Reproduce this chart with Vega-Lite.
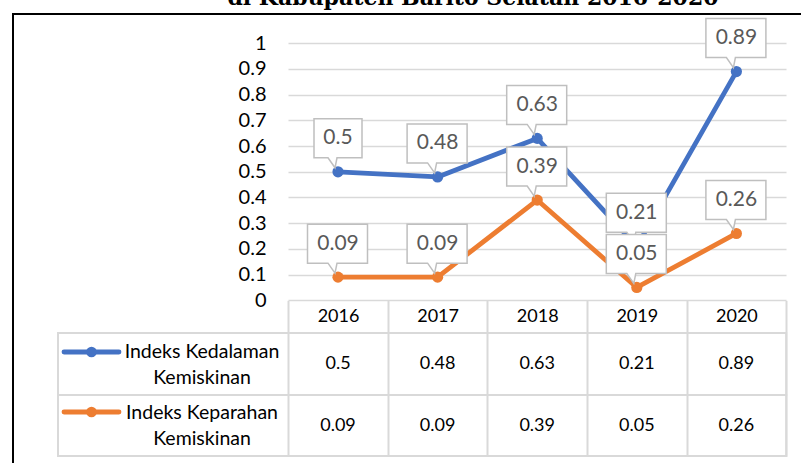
{
  "$schema": "https://vega.github.io/schema/vega-lite/v6.json",
  "autosize": {"type": "none"},
  "width": 796,
  "height": 458,
  "padding": {"left": 13, "top": 14, "right": -8, "bottom": -9},
  "background": "white",
  "config": {"view": {"stroke": "black", "strokeWidth": 2}, "font": "Lato"},
  "title": {
    "text": "di Kabupaten Barito Selatan 2016-2020",
    "font": "DejaVu Serif",
    "fontSize": 22,
    "fontWeight": "bold",
    "color": "black",
    "anchor": "middle",
    "frame": "group",
    "baseline": "bottom",
    "dx": 62,
    "offset": -18
  },
  "data": {
    "values": [
      {"series": "Indeks Kedalaman Kemiskinan", "year": 2016, "value": 0.5},
      {"series": "Indeks Kedalaman Kemiskinan", "year": 2017, "value": 0.48},
      {"series": "Indeks Kedalaman Kemiskinan", "year": 2018, "value": 0.63},
      {"series": "Indeks Kedalaman Kemiskinan", "year": 2019, "value": 0.21},
      {"series": "Indeks Kedalaman Kemiskinan", "year": 2020, "value": 0.89},
      {"series": "Indeks Keparahan Kemiskinan", "year": 2016, "value": 0.09},
      {"series": "Indeks Keparahan Kemiskinan", "year": 2017, "value": 0.09},
      {"series": "Indeks Keparahan Kemiskinan", "year": 2018, "value": 0.39},
      {"series": "Indeks Keparahan Kemiskinan", "year": 2019, "value": 0.05},
      {"series": "Indeks Keparahan Kemiskinan", "year": 2020, "value": 0.26}
    ]
  },
  "layer": [
    {
      "mark": {"type": "line", "strokeWidth": 4.8, "strokeJoin": "round", "strokeCap": "round"},
      "encoding": {
        "x": {
          "field": "year", "type": "quantitative",
          "scale": {"domain": [2012.7369, 2020.7289], "nice": false, "zero": false},
          "axis": {
            "orient": "bottom", "offset": -171.7,
            "values": [2015, 2016, 2017, 2018, 2019, 2020],
            "format": "d",
            "labelExpr": "datum.value < 2016 ? '' : datum.label",
            "tickOffset": 49.8, "labelOffset": -49.8,
            "tickSize": 156, "tickColor": "#d9d9d9", "tickWidth": 2,
            "domain": false, "grid": false,
            "labelPadding": -139.6, "labelBaseline": "middle", "labelAlign": "center",
            "labelFontSize": 18, "labelColor": "black",
            "labelFlush": false, "labelOverlap": false, "labelBound": false,
            "title": null
          }
        },
        "y": {
          "field": "value", "type": "quantitative",
          "scale": {"domain": [-0.6681, 1.114], "nice": false, "zero": false},
          "axis": {
            "orient": "left", "offset": -275,
            "values": [0, 0.1, 0.2, 0.3, 0.4, 0.5, 0.6, 0.7, 0.8, 0.9, 1],
            "format": "~g",
            "tickSize": -498, "tickColor": "#d9d9d9", "tickWidth": 1.5,
            "domain": false, "grid": false,
            "labelPadding": 520, "labelFontSize": 20, "labelColor": "black",
            "labelBaseline": "middle", "labelAlign": "right",
            "labelFlush": false, "labelOverlap": false, "labelBound": false,
            "title": null
          }
        },
        "color": {
          "field": "series", "type": "nominal",
          "scale": {"domain": ["Indeks Kedalaman Kemiskinan", "Indeks Keparahan Kemiskinan"], "range": ["#4472C4", "#ED7D31"]},
          "legend": null
        }
      }
    },
    {
      "mark": {"type": "point", "filled": true, "size": 125, "opacity": 1},
      "encoding": {
        "x": {"field": "year", "type": "quantitative"},
        "y": {"field": "value", "type": "quantitative"},
        "color": {"field": "series", "type": "nominal"}
      }
    },
    {
      "transform": [{"filter": "datum.value != 0.5"}],
      "mark": {"type": "point", "shape": "M-30.5,-53H29.5V-14H-1L-3,-4L-10,-14H-30.5Z", "size": 4, "filled": true, "fill": "white", "stroke": "#bfbfbf", "strokeWidth": 1.5, "opacity": 1},
      "encoding": {
        "x": {"field": "year", "type": "quantitative"},
        "y": {"field": "value", "type": "quantitative"}
      }
    },
    {
      "transform": [{"filter": "datum.value == 0.5"}],
      "mark": {"type": "point", "shape": "M-24,-53H24V-14H-1L-3,-4L-10,-14H-24Z", "size": 4, "filled": true, "fill": "white", "stroke": "#bfbfbf", "strokeWidth": 1.5, "opacity": 1},
      "encoding": {
        "x": {"field": "year", "type": "quantitative"},
        "y": {"field": "value", "type": "quantitative"}
      }
    },
    {
      "mark": {"type": "text", "dy": -33.5, "fontSize": 21, "color": "#595959", "baseline": "middle", "align": "center"},
      "encoding": {
        "x": {"field": "year", "type": "quantitative"},
        "y": {"field": "value", "type": "quantitative"},
        "text": {"field": "value", "type": "quantitative"}
      }
    },
    {
      "transform": [{"filter": "datum.series == 'Indeks Kedalaman Kemiskinan'"}],
      "layer": [
        {
          "transform": [{"filter": "datum.year == 2016"}],
          "mark": {"type": "rect", "fill": "transparent", "stroke": "#d9d9d9", "strokeWidth": 2},
          "encoding": {"x": {"datum": 2013.1888}, "x2": {"datum": 2020.5}, "y": {"datum": -0.1272}, "y2": {"datum": -0.3685}}
        },
        {
          "mark": {"type": "text", "fontSize": 18, "color": "black", "baseline": "middle", "align": "center"},
          "encoding": {"x": {"field": "year", "type": "quantitative"}, "y": {"datum": -0.2479}, "text": {"field": "value", "type": "quantitative"}}
        },
        {
          "transform": [{"filter": "datum.year == 2016"}, {"calculate": "replace(datum.series, ' Kemiskinan', '\\nKemiskinan')", "as": "label"}],
          "mark": {"type": "text", "fontSize": 19.5, "color": "black", "baseline": "middle", "align": "center", "lineBreak": "\n", "lineHeight": 26},
          "encoding": {"x": {"datum": 2014.6345}, "y": {"datum": -0.2012}, "text": {"field": "label"}}
        },
        {
          "transform": [{"filter": "datum.year == 2016"}],
          "mark": {"type": "rule", "strokeWidth": 4.8, "strokeCap": "round"},
          "encoding": {"x": {"datum": 2013.249}, "x2": {"datum": 2013.8012}, "y": {"datum": -0.2012}, "color": {"field": "series", "type": "nominal"}}
        },
        {
          "transform": [{"filter": "datum.year == 2016"}],
          "mark": {"type": "point", "filled": true, "size": 115, "opacity": 1},
          "encoding": {"x": {"datum": 2013.5251}, "y": {"datum": -0.2012}, "color": {"field": "series", "type": "nominal"}}
        }
      ]
    },
    {
      "transform": [{"filter": "datum.series == 'Indeks Keparahan Kemiskinan'"}],
      "layer": [
        {
          "transform": [{"filter": "datum.year == 2016"}],
          "mark": {"type": "rect", "fill": "transparent", "stroke": "#d9d9d9", "strokeWidth": 2},
          "encoding": {"x": {"datum": 2013.1888}, "x2": {"datum": 2020.5}, "y": {"datum": -0.3685}, "y2": {"datum": -0.6058}}
        },
        {
          "mark": {"type": "text", "fontSize": 18, "color": "black", "baseline": "middle", "align": "center"},
          "encoding": {"x": {"field": "year", "type": "quantitative"}, "y": {"datum": -0.4872}, "text": {"field": "value", "type": "quantitative"}}
        },
        {
          "transform": [{"filter": "datum.year == 2016"}, {"calculate": "replace(datum.series, ' Kemiskinan', '\\nKemiskinan')", "as": "label"}],
          "mark": {"type": "text", "fontSize": 19.5, "color": "black", "baseline": "middle", "align": "center", "lineBreak": "\n", "lineHeight": 26},
          "encoding": {"x": {"datum": 2014.6345}, "y": {"datum": -0.4393}, "text": {"field": "label"}}
        },
        {
          "transform": [{"filter": "datum.year == 2016"}],
          "mark": {"type": "rule", "strokeWidth": 4.8, "strokeCap": "round"},
          "encoding": {"x": {"datum": 2013.249}, "x2": {"datum": 2013.8012}, "y": {"datum": -0.4346}, "color": {"field": "series", "type": "nominal"}}
        },
        {
          "transform": [{"filter": "datum.year == 2016"}],
          "mark": {"type": "point", "filled": true, "size": 115, "opacity": 1},
          "encoding": {"x": {"datum": 2013.5251}, "y": {"datum": -0.4346}, "color": {"field": "series", "type": "nominal"}}
        }
      ]
    }
  ]
}
